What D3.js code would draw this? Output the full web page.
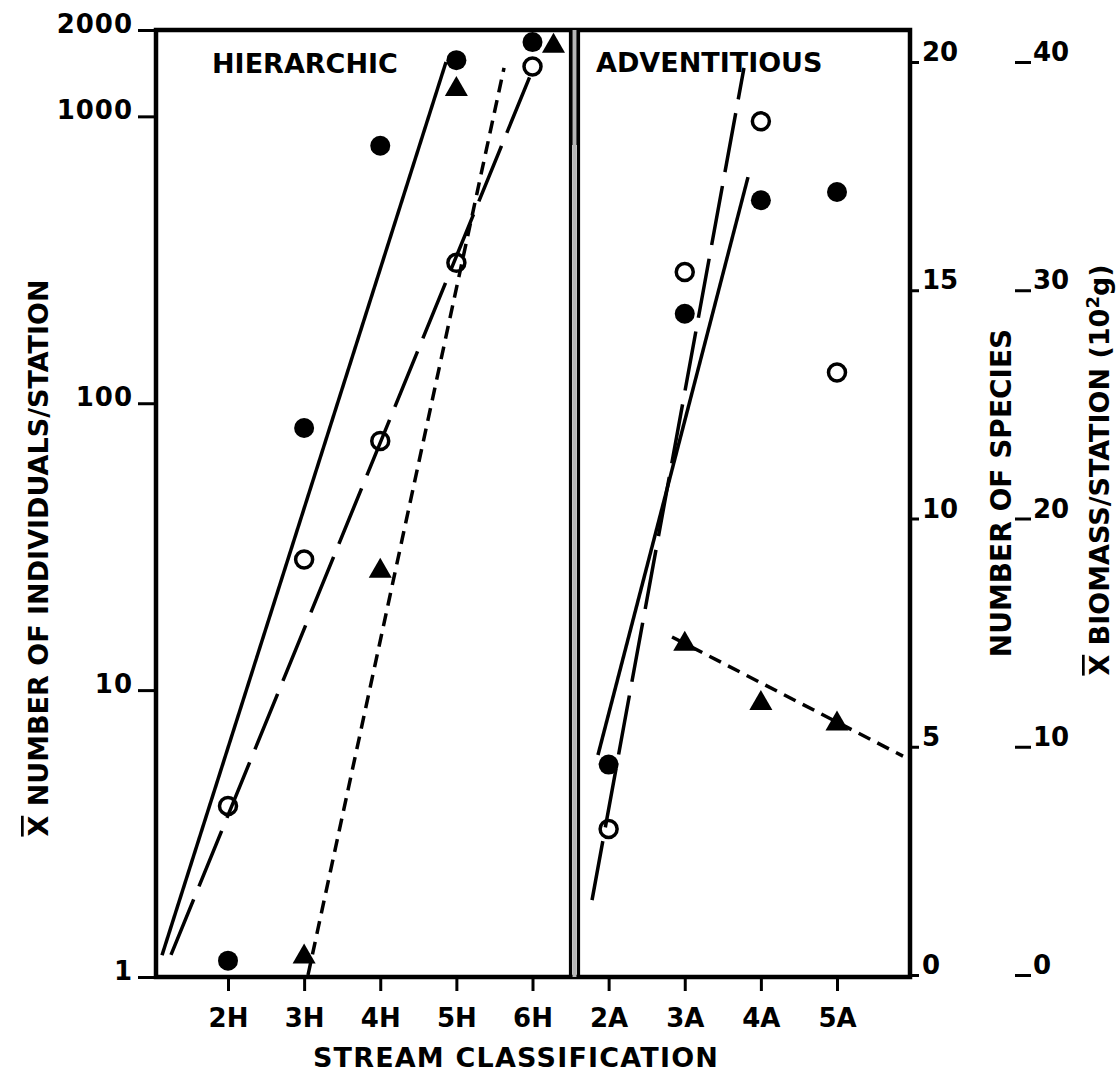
<!DOCTYPE html>
<html>
<head>
<meta charset="utf-8">
<script src="https://cdn.jsdelivr.net/npm/d3@7"></script>
<style>
  html, body { margin: 0; padding: 0; background: #fff; }
  svg text { font-family: "DejaVu Sans", sans-serif; font-weight: bold; fill: #000; }
</style>
</head>
<body>
<svg id="chart" width="1119" height="1073"></svg>
<script>
// Stream classes: hierarchic (H) then adventitious (A)
const categories = ["2H", "3H", "4H", "5H", "6H", "2A", "3A", "4A", "5A"];

// Mean number of individuals per station (log axis, filled circles)
const individuals = [1.14, 82, 790, 1570, 1815, 5.5, 205, 510, 545];
// Number of species (first right axis, open circles)
const species = [3.7, 9.1, 11.7, 15.6, 19.9, 3.2, 15.4, 18.7, 13.2];
// Mean biomass per station, 10^2 g (second right axis, triangles)
const biomass = [null, 0.8, 17.7, 38.8, 40.7, null, 14.5, 11.9, 11.0];

// Fitted trend lines: endpoints as (class position, value)
const individualsFits = [
  { x0: -0.867, y0: 1.19, x1: 2.864, y1: 1546 },
  { x0: 4.860, y0: 5.94, x1: 6.831, y1: 614 }
];
const speciesFits = [
  { x0: -0.749, y0: 0.44, x1: 3.967, y1: 19.69 },
  { x0: 4.782, y0: 1.64, x1: 6.778, y1: 19.87 }
];
const biomassFits = [
  { x0: 1.051, y0: 0.0, x1: 3.626, y1: 39.74 },
  { x0: 5.833, y0: 14.81, x1: 8.867, y1: 9.59 }
];

// Axis ticks
const individualsTicks = [1, 10, 100, 1000, 2000];
const speciesTicks = [0, 5, 10, 15, 20];
const biomassTicks = [0, 10, 20, 30, 40];

const svg = d3.select("#chart");

const frame = { left: 156, right: 910, top: 30, bottom: 977 };
const divider = 574.5;

const xPos = d3.scaleLinear().domain([0, categories.length - 1]).range([228, 837]);
const xBand = d3.scalePoint().domain(categories).range([228, 837]);
const yInd = d3.scaleLog().domain([1, 2000]).range([977, 30]);
const ySp = d3.scaleLinear().domain([0, 20]).range([975, 62]);
const yBio = d3.scaleLinear().domain([0, 40]).range([975, 62]);

const ink = "#000";

// Frame
svg.append("rect")
  .attr("x", frame.left).attr("y", frame.top)
  .attr("width", frame.right - frame.left).attr("height", frame.bottom - frame.top)
  .attr("fill", "none").attr("stroke", ink).attr("stroke-width", 4.5);

// Panel divider: heavy double rule
svg.append("rect").attr("x", divider - 5.5).attr("y", frame.top)
  .attr("width", 11).attr("height", 115).attr("fill", ink);
svg.append("rect").attr("x", divider - 2).attr("y", frame.top)
  .attr("width", 4).attr("height", frame.bottom - frame.top).attr("fill", "#b5b5b5");
[-4, 4].forEach(o => {
  svg.append("line")
    .attr("x1", divider + o).attr("x2", divider + o)
    .attr("y1", frame.top).attr("y2", frame.bottom)
    .attr("stroke", ink).attr("stroke-width", 3.2);
});

// Left log axis
const gLeft = svg.append("g").attr("transform", `translate(${frame.left},0)`)
  .call(d3.axisLeft(yInd).tickValues(individualsTicks).tickFormat(d3.format("d"))
    .tickSize(18).tickPadding(5));
gLeft.select(".domain").remove();
gLeft.selectAll(".tick line").attr("stroke", ink).attr("stroke-width", 3);
gLeft.selectAll(".tick text").attr("dy", "0.1em").style("font-size", "26px")
  .style("letter-spacing", "1px");

// Species axis on the right edge of the frame
const gSp = svg.append("g").attr("transform", `translate(${frame.right},0)`)
  .call(d3.axisRight(ySp).tickValues(speciesTicks).tickSize(9).tickPadding(3));
gSp.select(".domain").remove();
gSp.selectAll(".tick line").attr("stroke", ink).attr("stroke-width", 3);
gSp.selectAll(".tick text").attr("dy", "-0.05em").style("font-size", "26px");

// Biomass axis further right
const gBio = svg.append("g").attr("transform", "translate(1015,0)")
  .call(d3.axisRight(yBio).tickValues(biomassTicks).tickSize(16).tickPadding(2));
gBio.select(".domain").remove();
gBio.selectAll(".tick line").attr("stroke", ink).attr("stroke-width", 3);
gBio.selectAll(".tick text").attr("dy", "-0.05em").style("font-size", "26px");

// Bottom category axis
const gBottom = svg.append("g").attr("transform", `translate(0,${frame.bottom})`)
  .call(d3.axisBottom(xBand).tickSize(14).tickPadding(0));
gBottom.select(".domain").remove();
gBottom.selectAll(".tick line").attr("stroke", ink).attr("stroke-width", 3);
gBottom.selectAll(".tick text").attr("y", 50).attr("dy", "0").style("font-size", "26px");

// Axis titles
svg.append("text").attr("x", 516).attr("y", 1067).attr("text-anchor", "middle")
  .style("font-size", "27px").style("letter-spacing", "1.2px").text("STREAM CLASSIFICATION");

const leftTitle = svg.append("text")
  .attr("transform", "translate(48,558) rotate(-90)")
  .attr("text-anchor", "middle").style("font-size", "27px");
leftTitle.append("tspan").style("text-decoration", "overline").text("X");
leftTitle.append("tspan").text(" NUMBER OF INDIVIDUALS/STATION");

svg.append("text")
  .attr("transform", "translate(1011,493) rotate(-90)")
  .attr("text-anchor", "middle").style("font-size", "28px")
  .text("NUMBER OF SPECIES");

const bioTitle = svg.append("text")
  .attr("transform", "translate(1109,470) rotate(-90)")
  .attr("text-anchor", "middle").style("font-size", "27px");
bioTitle.append("tspan").style("text-decoration", "overline").text("X");
bioTitle.append("tspan").text(" BIOMASS/STATION (10");
bioTitle.append("tspan").attr("baseline-shift", "super").style("font-size", "18px").text("2");
bioTitle.append("tspan").text("g)");

// Panel labels
svg.append("text").attr("x", 212).attr("y", 73).style("font-size", "27px").text("HIERARCHIC");
svg.append("text").attr("x", 596).attr("y", 72).style("font-size", "27px").text("ADVENTITIOUS");

// Trend lines
function drawFits(fits, yScale, dash) {
  svg.append("g").selectAll("line").data(fits).join("line")
    .attr("x1", d => xPos(d.x0)).attr("y1", d => yScale(d.y0))
    .attr("x2", d => xPos(d.x1)).attr("y2", d => yScale(d.y1))
    .attr("stroke", ink).attr("stroke-width", 3.5)
    .attr("stroke-dasharray", dash);
}
drawFits(individualsFits, yInd, null);
drawFits(speciesFits, ySp, "60 14");
drawFits(biomassFits, yBio, "13 8");

// Markers
const pts = (vals, yScale) => vals.map((v, i) => ({ i, v, x: xPos(i), y: v == null ? null : yScale(v) }))
  .filter(d => d.v != null);

const indPts = pts(individuals, yInd);
svg.append("g").selectAll("circle").data(indPts).join("circle")
  .attr("cx", d => d.x).attr("cy", d => d.y).attr("r", 10).attr("fill", ink);

const spPts = pts(species, ySp);
svg.append("g").selectAll("circle").data(spPts).join("circle")
  .attr("cx", d => d.x).attr("cy", d => d.y).attr("r", 8.5)
  .attr("fill", "none").attr("stroke", ink).attr("stroke-width", 3.5);

// Triangles that would sit on a filled circle of the same class are set beside it
const bioPts = pts(biomass, yBio).map(d => {
  const hit = indPts.find(c => c.i === d.i && Math.abs(c.y - d.y) < 20);
  return { ...d, x: hit ? d.x + 21 : d.x };
});
svg.append("g").selectAll("path").data(bioPts).join("path")
  .attr("transform", d => `translate(${d.x},${d.y})`)
  .attr("d", d3.symbol(d3.symbolTriangle, 230))
  .attr("fill", ink);
</script>
</body>
</html>
